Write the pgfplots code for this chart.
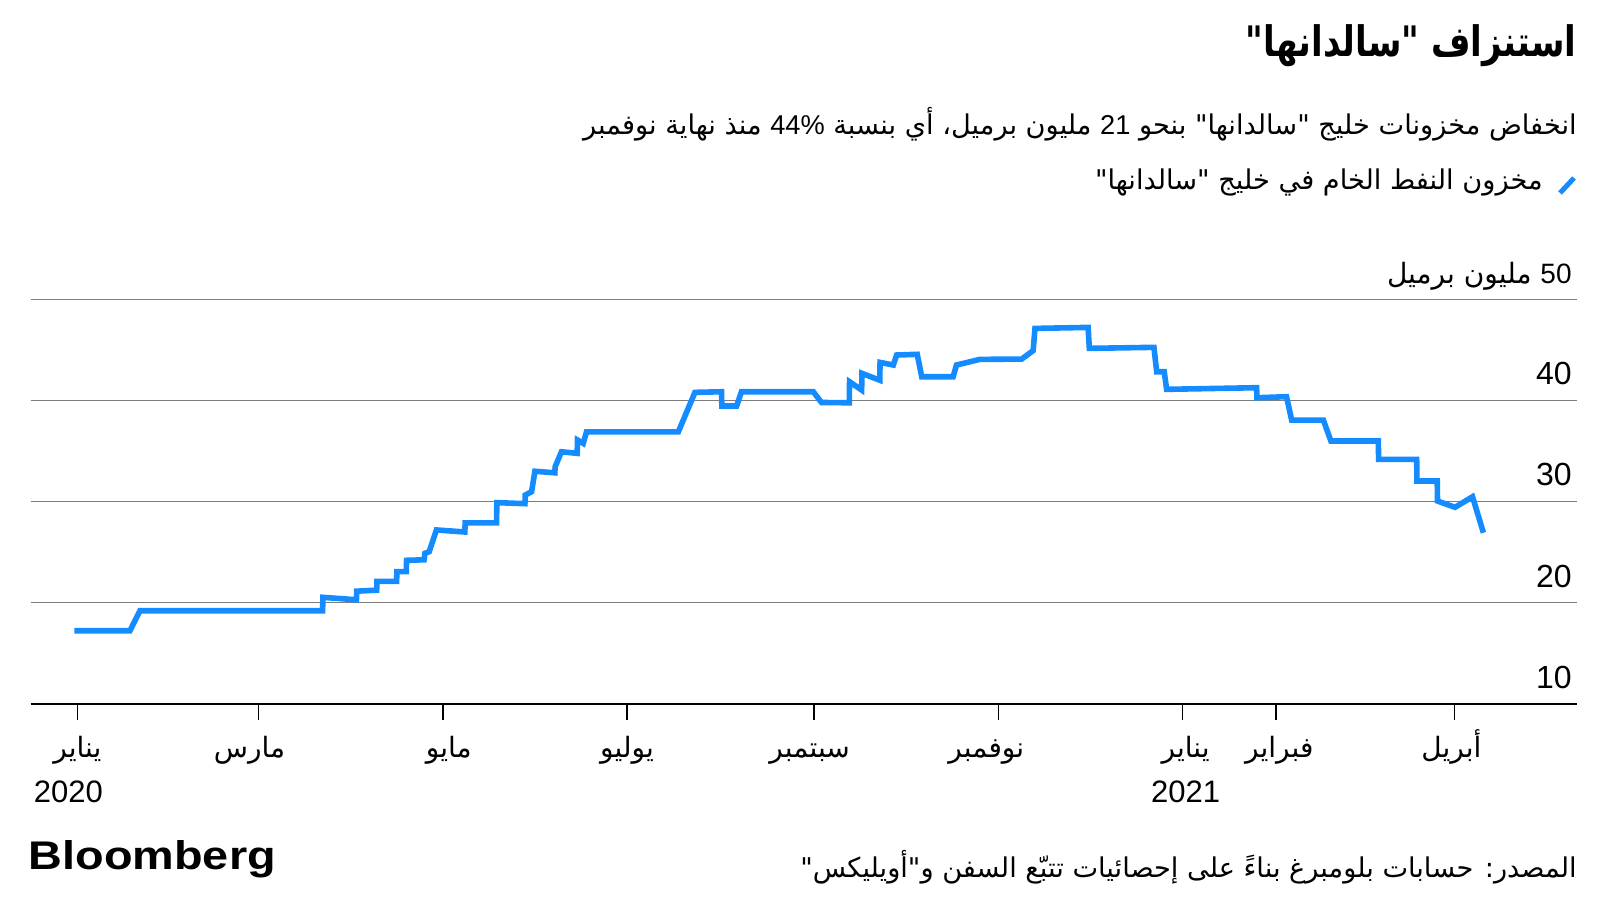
\documentclass[border=0pt]{standalone}
\usepackage{fontspec}
\usepackage{pgfplots}
\pgfplotsset{compat=1.18}
\TeXXeTstate=1
\setmainfont{Liberation Sans}
\newfontfamily\arfont[Script=Arabic]{DejaVu Sans}
\newcommand{\AR}[1]{{\arfont\beginR #1\endR}}
\newcommand{\LN}[1]{\beginL{\rmfamily #1}\endL}
\definecolor{lineblue}{RGB}{20,140,255}
\definecolor{gridgray}{RGB}{125,125,125}
\tikzset{mlab/.style={anchor=base, inner sep=0pt, yshift=-27bp, font=\fontsize{14bp}{17bp}\selectfont}}

\pgfplotstableread{
x y
-1 17.24
17.4 17.24
20.7 19.22
81.2 19.22
81.3 20.54
92.4 20.3
92.5 21.15
99.1 21.25
99.2 22.12
105.7 22.12
105.8 23.08
108.9 23.08
109.0 24.2
114.8 24.25
115.1 24.9
116.5 25.05
118.9 27.2
128.3 27.0
128.4 27.9
138.8 27.9
138.9 29.9
148.2 29.8
148.3 30.65
150.4 30.98
151.5 33.0
158.1 32.85
158.2 33.45
160.3 34.93
165.5 34.77
165.6 36.09
167.5 35.76
168.6 36.9
199.0 36.9
204.5 40.8
213.3 40.86
213.4 39.45
218.3 39.45
219.9 40.86
243.7 40.86
246.4 39.8
255.6 39.77
255.7 41.85
259.7 41.03
259.8 42.68
265.7 42.0
265.8 43.76
270.2 43.5
271.3 44.49
278.1 44.56
279.6 42.34
290.0 42.34
291.1 43.5
298.8 44.06
312.7 44.09
316.5 44.93
317.1 47.12
334.7 47.22
335.1 45.15
356.5 45.25
357.4 42.84
359.9 42.84
360.7 41.1
390.5 41.26
390.6 40.27
400.4 40.37
402.1 38.06
412.6 38.06
415.1 35.99
430.8 35.99
430.9 34.18
443.5 34.18
443.6 32.04
450.3 32.04
450.4 30.06
456.2 29.44
462.0 30.48
465.6 26.92
}\stocks

\begin{document}
\begin{tikzpicture}[x=1bp,y=1bp]
\useasboundingbox (0,0) rectangle (800,450);
% title
\node[anchor=east, inner sep=0pt, font=\fontsize{21bp}{25bp}\selectfont\bfseries] at (788.5,427) {\scalebox{0.81}[1]{\AR{استنزاف "سالدانها"}}};
% subtitle
\node[anchor=east, inner sep=0pt, font=\fontsize{13.6bp}{17bp}\selectfont] at (788.5,388) {\AR{انخفاض مخزونات خليج "سالدانها" بنحو \LN{21} مليون برميل، أي بنسبة \LN{44\%} منذ نهاية نوفمبر}};
% legend
\draw[lineblue, line width=2.5bp] (780,353.5) -- (787,361);
\node[anchor=east, inner sep=0pt, font=\fontsize{13.6bp}{17bp}\selectfont] at (771.5,358.5) {\AR{مخزون النفط الخام في خليج "سالدانها"}};

\begin{axis}[
  at={(15.3bp,98bp)}, anchor=south west,
  scale only axis, width=773.2bp, height=202.35bp,
  xmin=-15.5, xmax=496.6, ymin=10, ymax=50,
  axis line style={draw=none},
  xtick={0,60,121,182,244,305,366,397,456},
  xticklabels={},
  xtick pos=left,
  tick align=outside,
  major tick length=8bp,
  xtick style={black, line width=0.8bp},
  ytick={20,30,40,50}, yticklabels={}, ytick style={draw=none},
  ymajorgrids, grid style={gridgray, line width=0.6bp},
  clip=false,
]
\addplot[lineblue, line width=2.8bp, line join=miter, mark=none] table[x=x,y=y] {\stocks};
\draw[black, line width=1.2bp] (rel axis cs:0,0) -- (rel axis cs:1,0);
% y labels
\pgfplotsinvokeforeach{10,20,30,40}{
  \node[anchor=base east, inner sep=0pt, xshift=-2.5bp, yshift=7.85bp, font=\fontsize{16bp}{19bp}\selectfont] at (axis cs:496.6,#1) {#1};
}
\node[anchor=base east, inner sep=0pt, xshift=-2.5bp, yshift=7.85bp, font=\fontsize{16bp}{19bp}\selectfont] at (axis cs:496.6,50) {{\arfont\fontsize{14bp}{17bp}\selectfont\beginR\LN{50} مليون برميل\endR}};
% x labels
\node[mlab] at (axis cs:0,10) {\AR{يناير}};
\node[mlab] at (axis cs:57,10) {\AR{مارس}};
\node[mlab] at (axis cs:123,10) {\AR{مايو}};
\node[mlab] at (axis cs:182,10) {\AR{يوليو}};
\node[mlab] at (axis cs:242.5,10) {\AR{سبتمبر}};
\node[mlab] at (axis cs:301,10) {\AR{نوفمبر}};
\node[mlab] at (axis cs:367,10) {\AR{يناير}};
\node[mlab] at (axis cs:398,10) {\AR{فبراير}};
\node[mlab] at (axis cs:455,10) {\AR{أبريل}};
\node[anchor=base, inner sep=0pt, yshift=-49.5bp, font=\fontsize{15.5bp}{18bp}\selectfont] at (axis cs:-3,10) {2020};
\node[anchor=base, inner sep=0pt, yshift=-49.5bp, font=\fontsize{15.5bp}{18bp}\selectfont] at (axis cs:367,10) {2021};
\end{axis}

% footer
\node[anchor=base west, inner sep=0pt, font=\fontsize{20bp}{24bp}\selectfont\bfseries] at (14.2,15) {\scalebox{1.17}[1]{Bloomberg}};
\node[anchor=east, inner sep=0pt, font=\fontsize{13.6bp}{17bp}\selectfont] at (788.5,16.5) {\AR{المصدر: حسابات بلومبرغ بناءً على إحصائيات تتبّع السفن و"أويليكس"}};
\end{tikzpicture}
\end{document}
